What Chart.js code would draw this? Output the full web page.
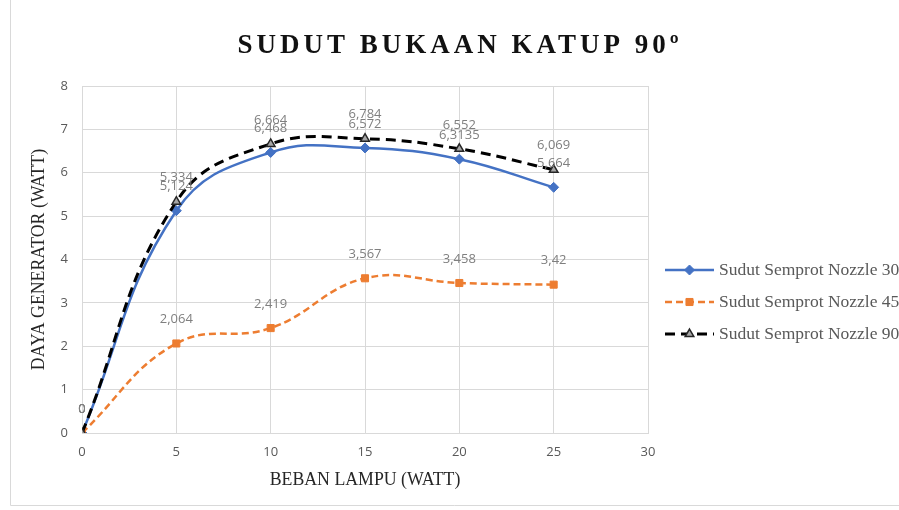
<!DOCTYPE html>
<html>
<head>
<meta charset="utf-8">
<script src="https://cdn.jsdelivr.net/npm/chart.js@4.4.1/dist/chart.umd.min.js"></script>
<style>
html,body{margin:0;padding:0;background:#fff;overflow:hidden;}
#wrap{width:899px;height:510px;position:relative;}
</style>
</head>
<body>
<div id="wrap"><canvas id="c" width="899" height="510"></canvas></div>
<script>
const titleText = 'SUDUT BUKAAN KATUP 90º';
const xTitle = 'BEBAN LAMPU (WATT)';
const yTitle = 'DAYA GENERATOR (WATT)';
const categories = [0, 5, 10, 15, 20, 25];
const nozzle30 = [0, 5.124, 6.468, 6.572, 6.3135, 5.664];
const nozzle45 = [0, 2.064, 2.419, 3.567, 3.458, 3.42];
const nozzle90 = [0, 5.334, 6.664, 6.784, 6.552, 6.069];
const seriesNames = ['Sudut Semprot Nozzle 30º', 'Sudut Semprot Nozzle 45º', 'Sudut Semprot Nozzle 90º'];
const xTickValues = [0, 5, 10, 15, 20, 25, 30];
const yTickValues = [0, 1, 2, 3, 4, 5, 6, 7, 8];

const toPts = arr => arr.map((v, i) => ({x: categories[i], y: v}));
const fmt = v => String(v).replace('.', ',');

const frame = {
  id: 'frame',
  beforeDraw(chart) {
    const ctx = chart.ctx;
    ctx.save();
    ctx.strokeStyle = '#d9d9d9';
    ctx.lineWidth = 1;
    ctx.beginPath();
    ctx.moveTo(10.5, 0);
    ctx.lineTo(10.5, 505.5);
    ctx.lineTo(899, 505.5);
    ctx.stroke();
    ctx.restore();
  },
  afterDraw(chart) {
    const ctx = chart.ctx;
    ctx.save();
    ctx.fillStyle = '#111';
    ctx.font = 'bold 27px "Liberation Serif", "DejaVu Serif", serif';
    ctx.letterSpacing = '4px';
    ctx.textAlign = 'center';
    ctx.textBaseline = 'middle';
    ctx.fillText(titleText, 460, 46);
    ctx.restore();

    // legend
    ctx.save();
    const x0 = 665, x1 = 714, tx = 719;
    const ys = [270, 302, 334];
    chart.data.datasets.forEach((ds, i) => {
      const y = ys[i];
      ctx.save();
      ctx.strokeStyle = ds.borderColor;
      ctx.lineWidth = ds.borderWidth;
      ctx.setLineDash(ds.borderDash || []);
      ctx.beginPath();
      ctx.moveTo(x0, y);
      ctx.lineTo(x1, y);
      ctx.stroke();
      ctx.restore();
      ctx.save();
      ctx.fillStyle = ds.pointBackgroundColor;
      ctx.strokeStyle = ds.pointBorderColor;
      ctx.lineWidth = ds.pointBorderWidth || 1;
      Chart.helpers.drawPoint(ctx, {
        pointStyle: ds.pointStyle, radius: ds.pointRadius, rotation: 0,
        borderWidth: ds.pointBorderWidth || 1
      }, (x0 + x1) / 2, y);
      ctx.restore();
      ctx.fillStyle = '#595959';
      ctx.font = '17.5px "Liberation Serif", serif';
      ctx.textAlign = 'left';
      ctx.textBaseline = 'middle';
      ctx.fillText(ds.label, tx, y);
    });
    ctx.restore();
  },
  afterDatasetsDraw(chart) {
    const ctx = chart.ctx;
    ctx.save();
    ctx.fillStyle = '#7f7f7f';
    ctx.font = '13px "Open Sans", sans-serif';
    ctx.textAlign = 'center';
    ctx.textBaseline = 'middle';
    chart.data.datasets.forEach((ds, i) => {
      const meta = chart.getDatasetMeta(i);
      meta.data.forEach((pt, j) => {
        ctx.fillText(fmt(ds.data[j].y), pt.x, pt.y - 24);
      });
    });
    ctx.restore();
  }
};

new Chart(document.getElementById('c'), {
  type: 'line',
  data: {
    datasets: [
      {
        label: seriesNames[0], data: toPts(nozzle30),
        borderColor: '#4472C4', borderWidth: 2.5, tension: 0.42,
        pointStyle: 'rectRot', pointRadius: 5, pointBackgroundColor: '#4472C4',
        pointBorderColor: '#4472C4', pointBorderWidth: 1, order: 2
      },
      {
        label: seriesNames[1], data: toPts(nozzle45),
        borderColor: '#ED7D31', borderWidth: 2.5, borderDash: [7, 4], tension: 0.42,
        pointStyle: 'rect', pointRadius: 5, pointBackgroundColor: '#ED7D31',
        pointBorderColor: '#ED7D31', pointBorderWidth: 1, order: 1
      },
      {
        label: seriesNames[2], data: toPts(nozzle90),
        borderColor: '#000000', borderWidth: 3, borderDash: [10, 6], tension: 0.42,
        pointStyle: 'triangle', pointRadius: 5, pointBackgroundColor: '#a6a6a6',
        pointBorderColor: '#262626', pointBorderWidth: 1.5, order: 0
      }
    ]
  },
  options: {
    responsive: false,
    animation: false,
    layout: {padding: {left: 10, right: 251, top: 86, bottom: 0}},
    plugins: {legend: {display: false}, title: {display: false}, tooltip: {enabled: false}},
    scales: {
      x: {
        type: 'linear', min: 0, max: 30,
        afterBuildTicks: s => { s.ticks = xTickValues.map(v => ({value: v})); },
        afterFit: s => { s.height = 77; },
        grid: {color: '#d9d9d9', drawTicks: false},
        border: {color: '#d9d9d9'},
        ticks: {color: '#595959', font: {family: '"Open Sans", sans-serif', size: 13}, padding: 11},
        title: {display: true, text: xTitle, color: '#262626',
          font: {family: '"Liberation Serif", serif', size: 17.8}, padding: {bottom: 19, top: 0}}
      },
      y: {
        min: 0, max: 8,
        afterBuildTicks: s => { s.ticks = yTickValues.map(v => ({value: v})); },
        afterFit: s => { s.width = 72; },
        grid: {color: '#d9d9d9', drawTicks: false},
        border: {color: '#d9d9d9'},
        ticks: {color: '#595959', font: {family: '"Open Sans", sans-serif', size: 13}, padding: 14},
        title: {display: true, text: yTitle, color: '#262626',
          font: {family: '"Liberation Serif", serif', size: 17.8}, padding: {top: 19, bottom: 0}}
      }
    }
  },
  plugins: [frame]
});
</script>
</body>
</html>
